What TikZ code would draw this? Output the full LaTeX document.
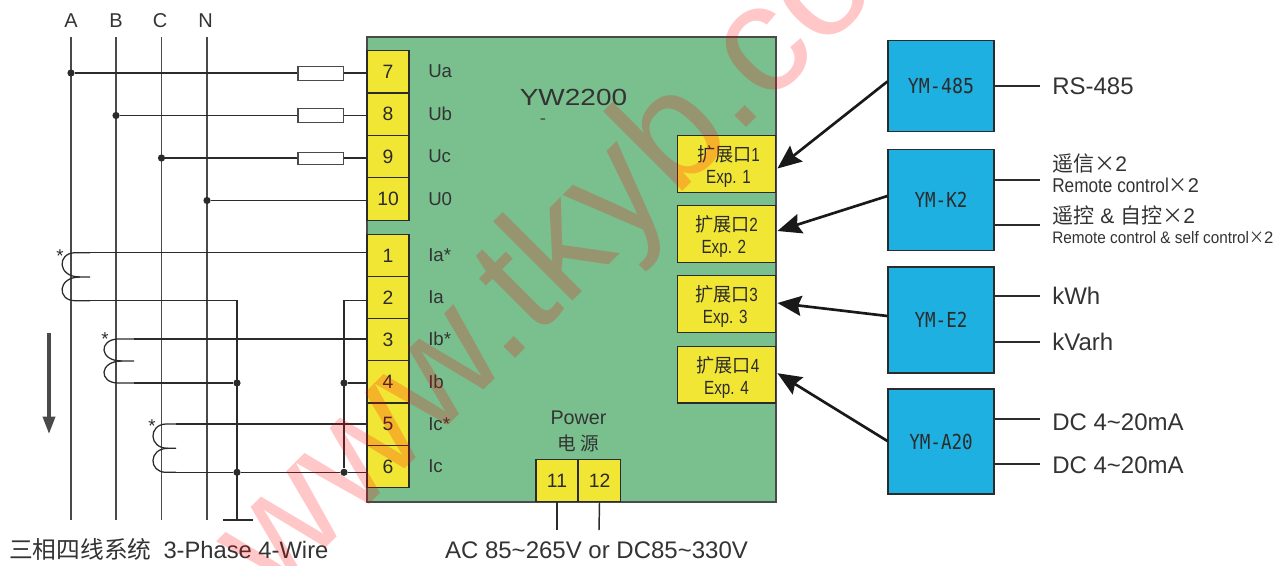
\documentclass[tikz,border=0pt]{standalone}
\usepackage{fontspec}
\usepackage{graphicx}
\setmainfont{Liberation Sans}
\newfontfamily\cjk{Noto Sans CJK SC}
\newfontfamily\monof{DejaVu Sans Mono}
\usetikzlibrary{arrows.meta,calc}
\definecolor{boardgreen}{HTML}{7AC08F}
\definecolor{termyellow}{HTML}{F2E635}
\definecolor{modblue}{HTML}{1FB0E2}
\definecolor{ink}{HTML}{2B2B2B}
\definecolor{txt}{HTML}{333333}
\definecolor{wire}{HTML}{4A4A4A}
\newcommand\nar[2][.8]{\scalebox{#1}[1]{#2}}
\newcommand\lowerstrut{\rule{0pt}{16pt}}
\tikzset{
  px/.style={x=.75pt,y=-.75pt},
  wireline/.style={draw=ink,line width=1.1pt},
  phase/.style={draw=wire,line width=1.35pt},
  board/.style={draw=wire,line width=1.1pt,fill=boardgreen,inner sep=0pt},
  term/.style={draw=ink,line width=.9pt,fill=termyellow,minimum width=31.5pt,minimum height=31.7pt,inner sep=0pt,text=ink,font=\fontsize{14.5}{16}\selectfont},
  expbox/.style={draw=ink,line width=.9pt,fill=termyellow,minimum width=74pt,minimum height=42.4pt,inner sep=0pt,align=center,text=ink,font=\fontsize{14.3}{16.2}\selectfont},
  modbox/.style={draw=ink,line width=.9pt,fill=modblue,minimum width=79.5pt,inner sep=0pt,text=ink,font=\monof\fontsize{15.5}{17}\selectfont},
  fuse/.style={draw=wire,line width=.9pt,fill=white,minimum width=34pt,inner sep=0pt},
  junction/.style={circle,fill=ink,draw=none,minimum size=5.4pt,inner sep=0pt},
  lab/.style={anchor=west,inner sep=0pt,text=txt,font=\fontsize{14}{16}\selectfont},
  big/.style={anchor=west,inner sep=0pt,text=txt,font=\fontsize{18}{20}\selectfont},
  head/.style={inner sep=0pt,text=txt,font=\fontsize{15}{17}\selectfont},
  star/.style={inner sep=0pt,text=ink,font=\fontsize{14}{15}\selectfont},
  ctcoil/.style={draw=ink,line width=.95pt},
  feed/.style={draw=black!90,line width=2pt,-{Stealth[length=18pt,width=15pt,inset=2.5pt]}},
}
\begin{document}
\begin{tikzpicture}[px]
\useasboundingbox (0,0) rectangle (1288,565);
% board
\node[board,minimum width=306.7pt,minimum height=348.7pt] (main) at (571.5,269.5) {};
% phase lines
\foreach \n/\x/\t in {A/71/A,B/116/B,C/161.5/C,N/207/N}{
  \coordinate (\n top) at (\x,37);
  \coordinate (\n bot) at (\x,520);
  \draw[phase] (\n top) -- (\n bot);
}
\node[head] (lA) at (71,21) {A};
\node[head] (lB) at (116,21) {B};
\node[head] (lC) at (160,21) {C};
\node[head] (lN) at (205.5,21) {N};
% voltage terminals
\node[term] (t7) at (388,72) {7};
\node[term] (t8) at (388,114.2) {8};
\node[term] (t9) at (388,156.5) {9};
\node[term] (t10) at (388,199) {10};
% current terminals
\node[term] (t1) at (388,255.5) {1};
\node[term] (t2) at (388,297.7) {2};
\node[term] (t3) at (388,339.7) {3};
\node[term] (t4) at (388,381.9) {4};
\node[term] (t5) at (388,424.2) {5};
\node[term] (t6) at (388,466.5) {6};
% voltage connections
\node[junction] (dA) at (71,73) {};
\node[junction] (dB) at (116,115.5) {};
\node[junction] (dC) at (161.5,158) {};
\node[junction] (dN) at (207,200.5) {};
\draw[wireline] (dA) -- (dA -| t7.west);
\draw[wireline] (dB) -- (dB -| t8.west);
\draw[wireline] (dC) -- (dC -| t9.west);
\draw[wireline] (dN) -- (dN -| t10.west);
\node[fuse,minimum height=11pt] (f1) at (320.7,73.5) {};
\node[fuse,minimum height=10.5pt] (f2) at (320.7,115.7) {};
\node[fuse,minimum height=9.5pt] (f3) at (320.7,158.5) {};
% current transformers
\coordinate (ct1a) at (90,252.7);
\coordinate (ct1m) at (90,277);
\coordinate (ct1b) at (90,300.7);
\coordinate (ct2a) at (134,339);
\coordinate (ct2m) at (134,361);
\coordinate (ct2b) at (134,383);
\coordinate (ct3a) at (176,424);
\coordinate (ct3m) at (176,448.3);
\coordinate (ct3b) at (176,472.3);
\draw[ctcoil] (ct1a) -- (75,252.7) .. controls (57,253) and (57,277) .. (80,277) -- (ct1m);
\draw[ctcoil] (80,277) .. controls (57,277) and (57,300.7) .. (75,300.7) -- (ct1b);
\draw[ctcoil] (ct2a) -- (118,339) .. controls (98.7,339.5) and (98.7,361) .. (122,361) -- (ct2m);
\draw[ctcoil] (122,361) .. controls (98.7,361) and (98.7,383) .. (118,383) -- (ct2b);
\draw[ctcoil] (ct3a) -- (166,424) .. controls (148.3,424.5) and (148.3,448.3) .. (168,448.3) -- (ct3m);
\draw[ctcoil] (168,448.3) .. controls (148.3,448.3) and (148.3,472.3) .. (166,472.3) -- (ct3b);
\node[star] (s1) at (60,256) {*};
\node[star] (s2) at (105,339) {*};
\node[star] (s3) at (152,426) {*};
% current wiring
\node[junction] (j1) at (237,383) {};
\node[junction] (j2) at (237,472.3) {};
\node[junction] (j3) at (344,383) {};
\node[junction] (j4) at (344,472.3) {};
\coordinate (gnd) at (237,520);
\coordinate (gl) at (223,520);
\coordinate (gr) at (253,520);
\draw[wireline] (ct1a) -- (ct1a -| t1.west);
\draw[wireline] (ct1b) -| (gnd);
\draw[wireline] (gl) -- (gr);
\draw[wireline] (ct1b -| t2.west) -| (j4);
\draw[wireline] (ct2a) -- (ct2a -| t3.west);
\draw[wireline] (ct2b) -- (j1);
\draw[wireline] (j3) -- (j3 -| t4.west);
\draw[wireline] (ct3a) -- (ct3a -| t5.west);
\draw[wireline] (ct3b) -- (j2) -- (j4) -- (j4 -| t6.west);
% flow arrow
\coordinate (fa) at (49,333);
\coordinate (fb) at (49,434);
\draw[draw=wire,line width=2.6pt,-{Triangle[length=13pt,width=9pt]}] (fa) -- (fb);
% signal labels
\node[lab] (lUa) at (428,71) {Ua};
\node[lab] (lUb) at (428,114) {Ub};
\node[lab] (lUc) at (428,156) {Uc};
\node[lab] (lU0) at (428,199) {U0};
\node[lab] (lIas) at (428,255) {Ia*};
\node[lab] (lIa) at (428,297) {Ia};
\node[lab] (lIbs) at (428,339) {Ib*};
\node[lab] (lIb) at (428,382) {Ib};
\node[lab] (lIcs) at (428,424) {Ic*};
\node[lab] (lIc) at (428,466) {Ic};
\node[inner sep=0pt,text=txt,font=\fontsize{17.5}{19}\selectfont] (title) at (573.5,97) {\scalebox{1.2}[1]{YW2200}};
\node[inner sep=0pt,text=wire,font=\fontsize{14}{15}\selectfont] (dash) at (543,122) {-};
% expansion ports
\node[expbox] (e1) at (726.5,164) {\lowerstrut\hspace*{3pt}{\cjk\nar[.95]{扩展口}}\nar{1}\\\hspace*{3pt}\nar{Exp. 1}};
\node[expbox] (e2) at (726.5,234) {\lowerstrut{\cjk\nar[.95]{扩展口}}\nar{2}\\\nar{Exp. 2}\hspace*{4pt}};
\node[expbox] (e3) at (726.5,304) {\lowerstrut{\cjk\nar[.95]{扩展口}}\nar{3}\\\nar{Exp. 3}\hspace*{2pt}};
\node[expbox] (e4) at (726.5,374.7) {\lowerstrut\hspace*{2pt}{\cjk\nar[.95]{扩展口}}\nar{4}\\\nar{Exp. 4}};
% modules
\node[modbox,minimum height=68pt] (m1) at (941,86) {\raisebox{-.8pt}{\nar[.885]{YM-485}}};
\node[modbox,minimum height=75.8pt] (m2) at (941,200) {\raisebox{-1.5pt}{\nar[.85]{YM-K2}}};
\node[modbox,minimum height=79.5pt] (m3) at (941,320) {\raisebox{-1.5pt}{\nar[.85]{YM-E2}}};
\node[modbox,minimum height=78.8pt] (m4) at (941,441.5) {\raisebox{-1.5pt}{\nar[.85]{YM-A20}}};
\draw[feed] ($(m1.west)+(0,-4.5)$) -- ($(e1.east)+(1,4.5)$);
\draw[feed] ($(m2.west)+(0,-4)$) -- ($(e2.east)+(1,-3)$);
\draw[feed] ($(m3.west)+(0,-4)$) -- ($(e3.east)+(1,-1)$);
\draw[feed] ($(m4.west)+(0,-.5)$) -- ($(e4.east)+(1,-1.5)$);
% module outputs
\coordinate (o1) at (1040,86);
\coordinate (o2) at (1040,180);
\coordinate (o3) at (1040,225);
\coordinate (o4) at (1040,296);
\coordinate (o5) at (1040,342);
\coordinate (o6) at (1040,419);
\coordinate (o7) at (1040,464);
\draw[wireline,line width=.9pt] (o1 -| m1.east) -- (o1);
\draw[wireline,line width=.9pt] (o2 -| m2.east) -- (o2);
\draw[wireline,line width=.9pt] (o3 -| m2.east) -- (o3);
\draw[wireline,line width=.9pt] (o4 -| m3.east) -- (o4);
\draw[wireline,line width=.9pt] (o5 -| m3.east) -- (o5);
\draw[wireline,line width=.9pt] (o6 -| m4.east) -- (o6);
\draw[wireline,line width=.9pt] (o7 -| m4.east) -- (o7);
\node[big] (r1) at (1052,86) {RS-485};
\node[lab,font=\fontsize{15.8}{17}\selectfont] (r2) at (1052,164) {{\cjk 遥信×}2};
\node[lab,font=\fontsize{15}{17}\selectfont] (r3) at (1052,185) {\nar[.86]{Remote control}{\cjk\nar[.95]{×}}2};
\node[lab,font=\fontsize{15.8}{17}\selectfont] (r4) at (1052,215) {{\cjk 遥控} \& {\cjk 自控×}2};
\node[lab,font=\fontsize{12.5}{14}\selectfont] (r5) at (1052,238) {\nar[.92]{Remote control \& self control}{\cjk\nar[.9]{×}}2};
\node[big] (r6) at (1052,296) {kWh};
\node[big] (r7) at (1052,342) {kVarh};
\node[big] (r8) at (1052,422) {DC 4\textasciitilde 20mA};
\node[big] (r9) at (1052,465) {DC 4\textasciitilde 20mA};
% power
\node[lab,anchor=center,font=\fontsize{14.8}{16}\selectfont] (pw) at (578.5,418) {Power};
\node[lab,anchor=center] (pwc) at (578,443) {\cjk 电 源};
\node[term] (t11) at (557,480.7) {11};
\node[term] (t12) at (599.5,480.7) {12};
\coordinate (p1) at (557,530);
\coordinate (p2) at (599,530);
\draw[wireline] (t11.south) -- (p1);
\draw[wireline] (t12.south) -- (p2);
\node[big,anchor=center] (ac) at (596.5,550) {AC 85\textasciitilde 265V or DC85\textasciitilde 330V};
\node[big,anchor=west,font=\fontsize{17.8}{20}\selectfont] (sys) at (9,549) {{\cjk 三相四线系统}\ \ \hspace{-1pt}3-Phase 4-Wire};
% watermark
\begin{scope}
\clip (0,0) rectangle (1288,565);
\node[anchor=base west,inner sep=0pt,rotate=45,text=red,text opacity=.22,font=\fontsize{116}{120}\selectfont] (wm) at (274,600) {www.tkyb.com};
\end{scope}
\end{tikzpicture}
\end{document}
